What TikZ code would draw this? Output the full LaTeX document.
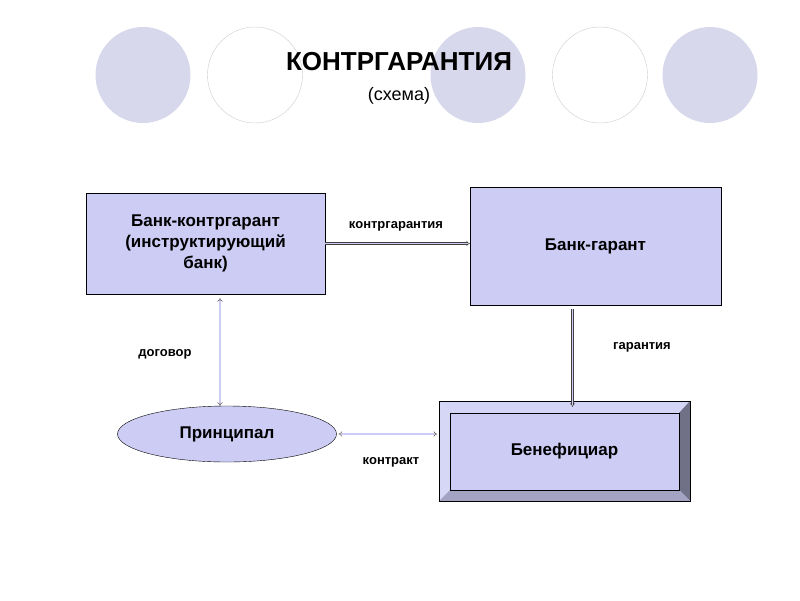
\documentclass[tikz,border=0pt]{standalone}
\usepackage{fontspec}
\setmainfont{Liberation Sans}
\usetikzlibrary{arrows.meta, shapes.geometric}
\definecolor{lilac}{HTML}{CCCCF5}
\definecolor{ringfill}{HTML}{D8D8EC}
\tikzset{
    bankbox/.style={
        rectangle, draw=black, fill=lilac, align=center,
        font=\fontsize{17}{21}\selectfont\bfseries
    },
    ring/.style={ellipse, minimum width=95, minimum height=96},
    link/.style={draw=black!75, double=lilac, double distance=1.4pt, -{Implies}},
    biglink/.style={link, {Implies}-{Implies}},
    tag/.style={font=\fontsize{13}{15}\selectfont\bfseries}
}

\begin{document}
\begin{tikzpicture}[x=1pt, y=-1pt]
\useasboundingbox (0,0) rectangle (800,600);

% Background rings
\node[ring, fill=ringfill] (r1) at (143,75) {};
\node[ring, draw=black!20] (r2) at (255,75) {};
\node[ring, fill=ringfill] (r3) at (478,75) {};
\node[ring, draw=black!20] (r4) at (600,75) {};
\node[ring, fill=ringfill] (r5) at (710,75) {};

% Title
\node[font=\fontsize{26}{30}\selectfont\bfseries] (title) at (399,62) {КОНТРГАРАНТИЯ};
\node[font=\fontsize{18}{22}\selectfont] (sub) at (399,96) {(схема)};

% Banks
\node[bankbox, minimum width=239, minimum height=101] (counter) at (205.5,243.5)
    {Банк-контргарант\\(инструктирующий\\банк)};
\node[bankbox, minimum width=251, minimum height=118] (guarant) at (595.5,246) {Банк-гарант};

% Principal
\node[ellipse, draw=black, fill=lilac, minimum width=219, minimum height=56,
      font=\fontsize{17}{21}\selectfont\bfseries] (princ) at (227,434) {Принципал};

% Beneficiary (bevelled box)
\fill[lilac!70!white, draw=black] (439,401) rectangle (690,501);
\fill[lilac!85!white] (439,401) -- (690,401) -- (679,413) -- (450,413) -- cycle;
\fill[lilac!80!white] (439,401) -- (450,413) -- (450,490) -- (439,501) -- cycle;
\fill[black!45!lilac] (690,401) -- (679,413) -- (679,490) -- (690,501) -- cycle;
\fill[black!20!lilac] (439,501) -- (450,490) -- (679,490) -- (690,501) -- cycle;
\draw (439,401) rectangle (690,501);
\node[draw=black, fill=lilac, minimum width=229, minimum height=77,
      font=\fontsize{17}{21}\selectfont\bfseries] (benef) at (564.5,451.5) {Бенефициар};

% Links
\draw[link] (counter.east) -- (guarant.west |- counter.east);
\node[tag] (lcounter) at (396,226) {контргарантия};
\draw[biglink] (counter.south -| princ.north) ++(-7,4) coordinate (c1)
    (c1) -- (princ.north -| c1);
\node[tag] (ldeal) at (165,354) {договор};
\draw[link] (guarant.south -| benef.north) ++(8,4) coordinate (g1)
    (g1) -- ([yshift=6pt]benef.north -| g1);
\node[tag] (lguar) at (642,347) {гарантия};
\draw[biglink] (princ.east) ++(2,0) coordinate (p1) (p1) -- ([xshift=-2pt]439,434);
\node[tag] (lcontract) at (391,462) {контракт};
\end{tikzpicture}
\end{document}
